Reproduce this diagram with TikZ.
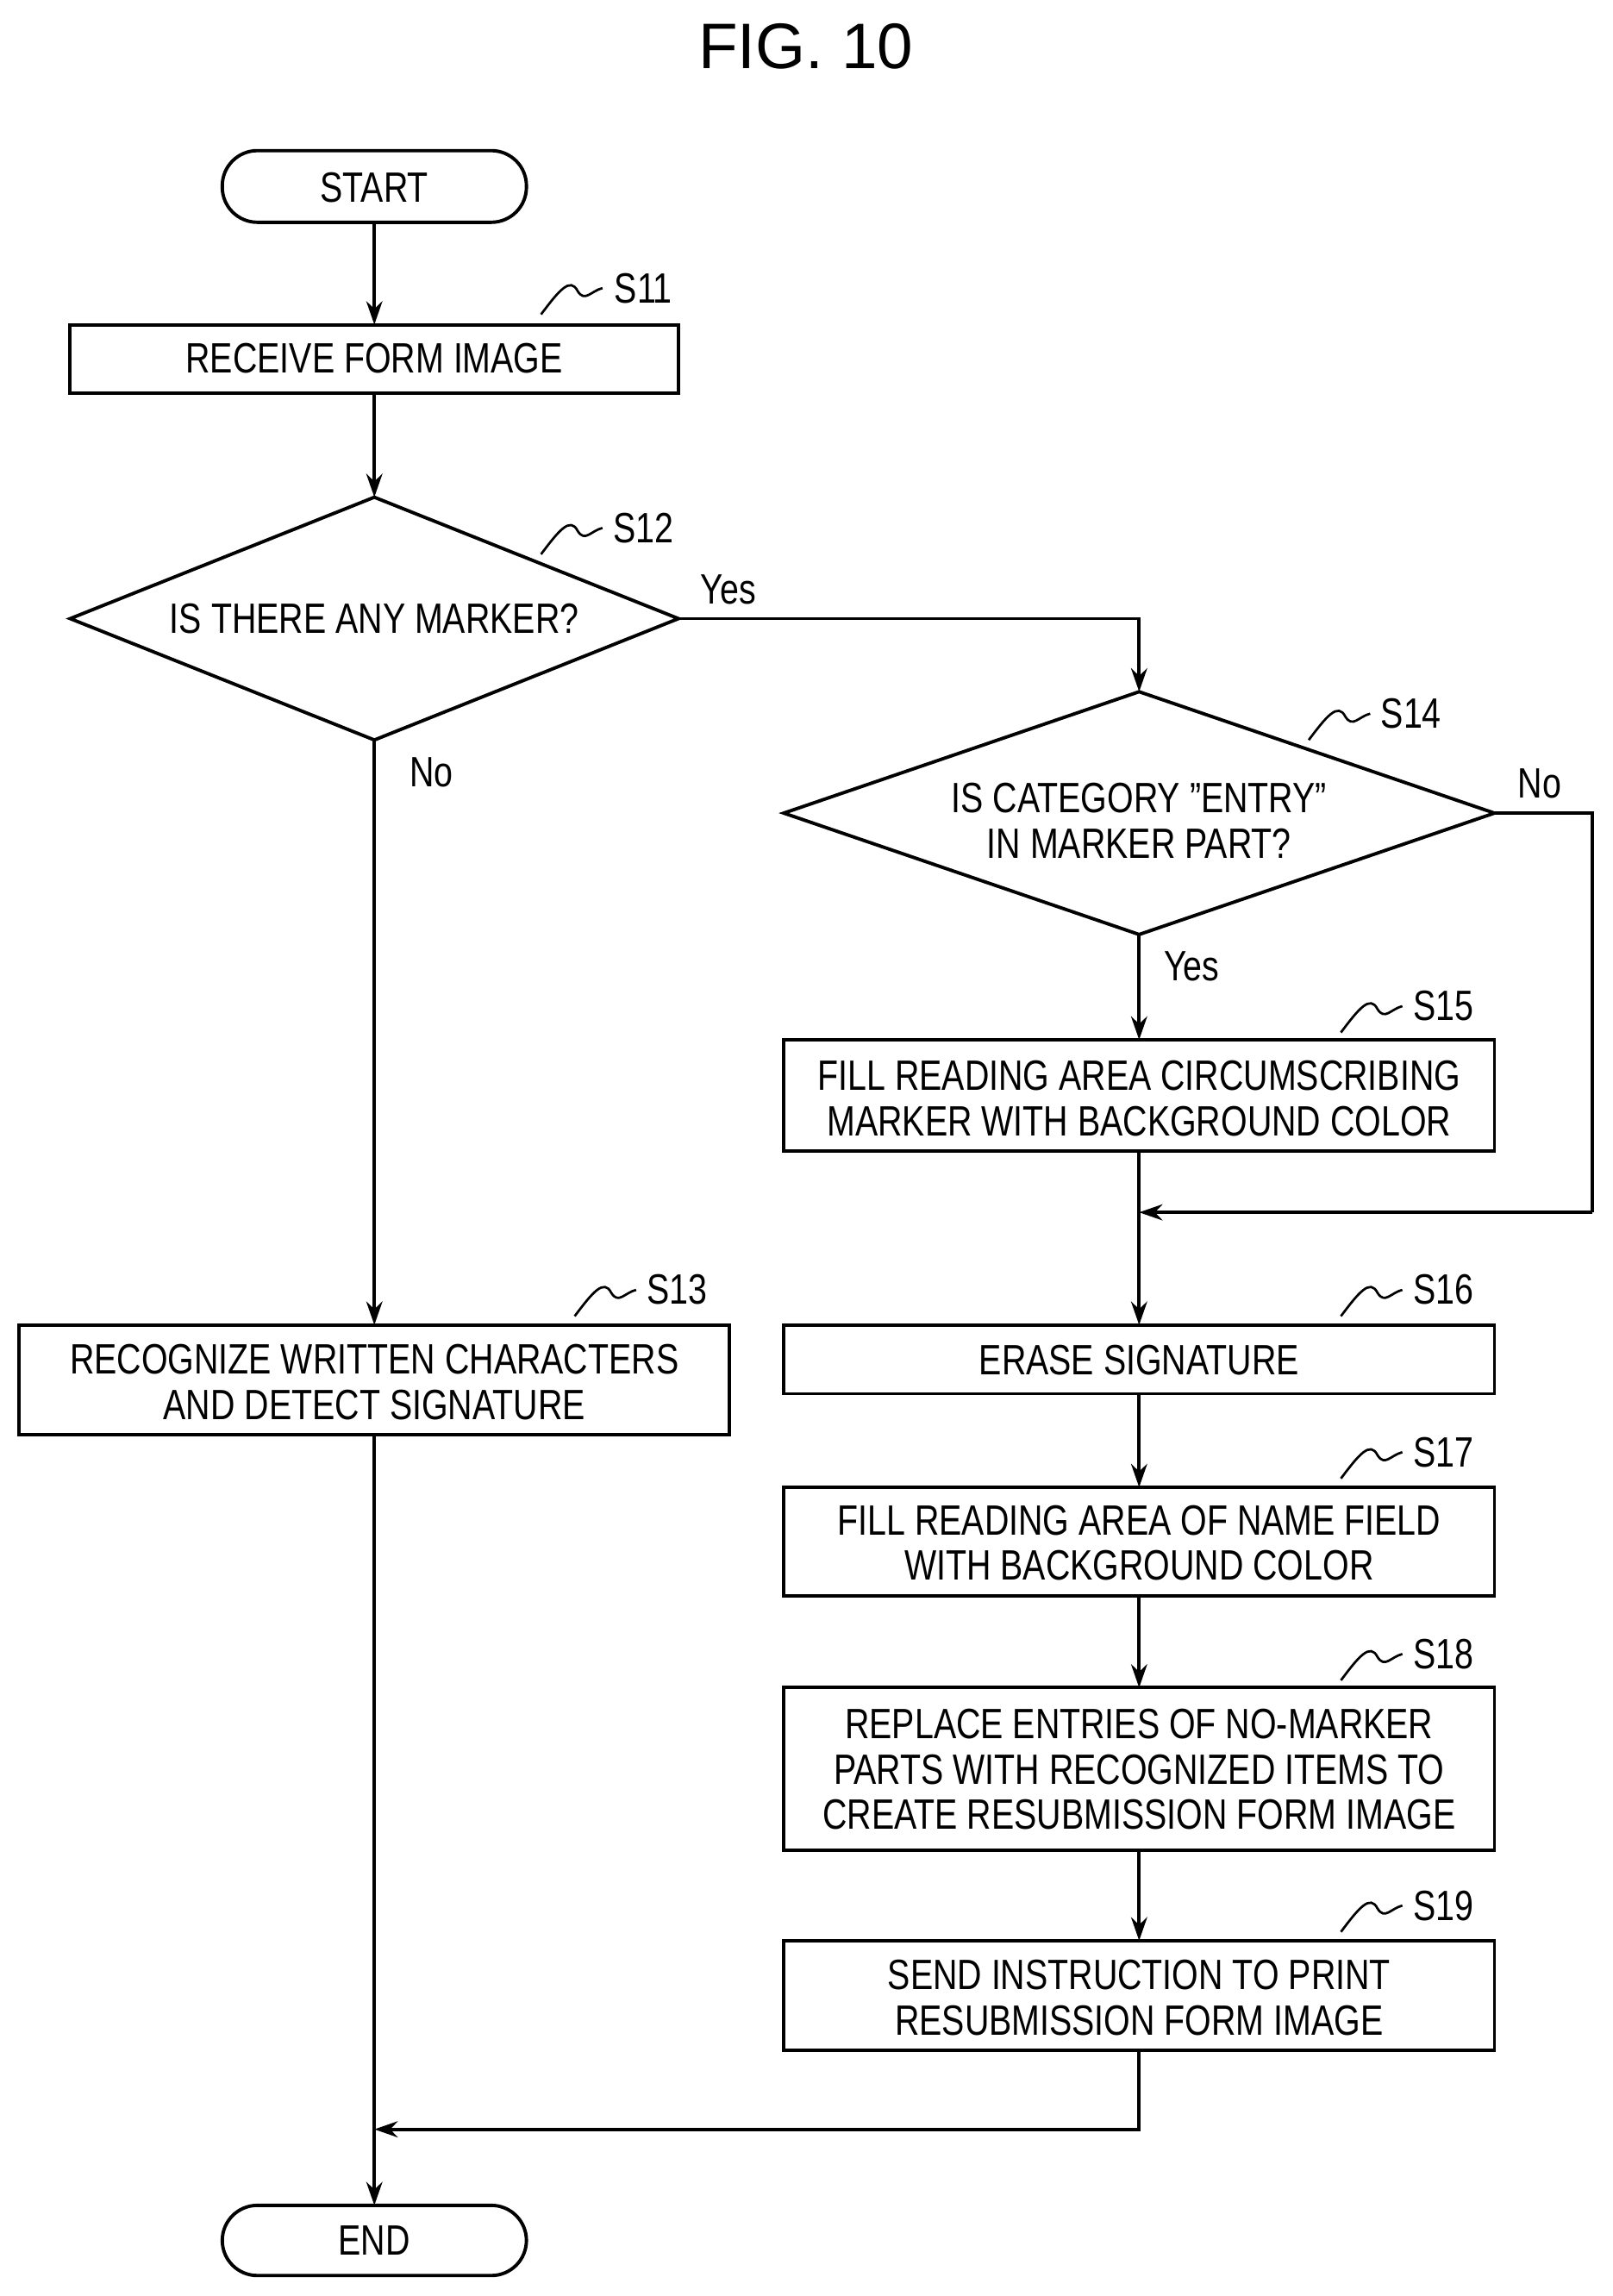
\documentclass[tikz,border=0pt]{standalone}
\usepackage{fontspec}
\setmainfont{Liberation Sans}[FakeStretch=0.8]
\newfontfamily\titlefont{Liberation Sans}
\usetikzlibrary{shapes.geometric,arrows.meta}
\begin{document}
\begin{tikzpicture}[x=1pt,y=-1pt,
 every node/.style={font=\fontsize{29}{31}\selectfont},
 ln/.style={line width=2.3pt},
 arr/.style={ln,-{Stealth[length=16pt,width=11pt]}},
 box/.style={ln,draw,align=center,inner sep=0},
 lbl/.style={font=\fontsize{29}{31}\selectfont}]
\useasboundingbox (0,0) rectangle (1103,1570);
\node[font=\titlefont\fontsize{44}{48}\selectfont] (title) at (551,32) {FIG. 10};
% shapes
\draw[ln,rounded corners=24pt] (152,103) rectangle (360,152);
\node (start) at (256,128) {START};
\coordinate (startb) at (256,152);
\draw[ln] (48,222) rectangle (464,269); \node (s11) at (256,245) {RECEIVE FORM IMAGE};
\draw[ln] (48,423)--(256,340)--(464,423)--(256,506)--cycle; \node (s12) at (256,423) {IS THERE ANY MARKER?};
\draw[ln] (536,556)--(779,473)--(1022,556)--(779,639)--cycle; \node[align=center] (s14) at (779,561) {IS CATEGORY "ENTRY"\\IN MARKER PART?};
\draw[ln] (536,711) rectangle (1022,787); \node[align=center] (s15) at (779,751) {FILL READING AREA CIRCUMSCRIBING\\MARKER WITH BACKGROUND COLOR};
\draw[ln] (536,906) rectangle (1022,953); \node (s16) at (779,930) {ERASE SIGNATURE};
\draw[ln] (536,1017) rectangle (1022,1091); \node[align=center] (s17) at (779,1055) {FILL READING AREA OF NAME FIELD\\WITH BACKGROUND COLOR};
\draw[ln] (536,1154) rectangle (1022,1265); \node[align=center] (s18) at (779,1210) {REPLACE ENTRIES OF NO-MARKER\\PARTS WITH RECOGNIZED ITEMS TO\\CREATE RESUBMISSION FORM IMAGE};
\draw[ln] (536,1327) rectangle (1022,1402); \node[align=center] (s19) at (779,1366) {SEND INSTRUCTION TO PRINT\\RESUBMISSION FORM IMAGE};
\draw[ln] (13,906) rectangle (499,981); \node[align=center] (s13) at (256,945) {RECOGNIZE WRITTEN CHARACTERS\\AND DETECT SIGNATURE};
\draw[ln,rounded corners=24pt] (152,1508) rectangle (360,1556);
\node (end) at (256,1532) {END};
% connectors
\draw[arr] (256,152)--(256,222);
\draw[arr] (256,269)--(256,340);
\draw[arr] (464,423)--(779,423)--(779,473);
\draw[arr] (779,639)--(779,711);
\draw[ln] (1022,556)--(1089,556)--(1089,829);
\draw[arr] (1089,829)--(779,829);
\draw[arr] (779,787)--(779,906);
\draw[arr] (779,953)--(779,1017);
\draw[arr] (779,1091)--(779,1154);
\draw[arr] (779,1265)--(779,1327);
\draw[arr] (256,506)--(256,906);
\draw[arr] (256,981)--(256,1508);
\draw[arr] (779,1402)--(779,1456)--(256,1456);
% labels
\node (yes1) at (498,403) {Yes};
\node (no1) at (295,528) {No};
\node (no2) at (1053,536) {No};
\node (yes2) at (815,661) {Yes};
\foreach \n/\x/\y in {S11/440/197,S12/440/361,S14/965/488,S15/987/688,S16/987/882,S17/987/993,S18/987/1131,S19/987/1303,S13/463/882}{
 \node (l\n) at (\x,\y) {\n};
 \draw[line width=1.6pt] (\x-70,\y+18) .. controls (\x-58,\y+2) and (\x-50,\y-8) .. (\x-45,\y+2) .. controls (\x-40,\y+10) and (\x-36,\y+2) .. (\x-28,\y);
}
\end{tikzpicture}
\end{document}
